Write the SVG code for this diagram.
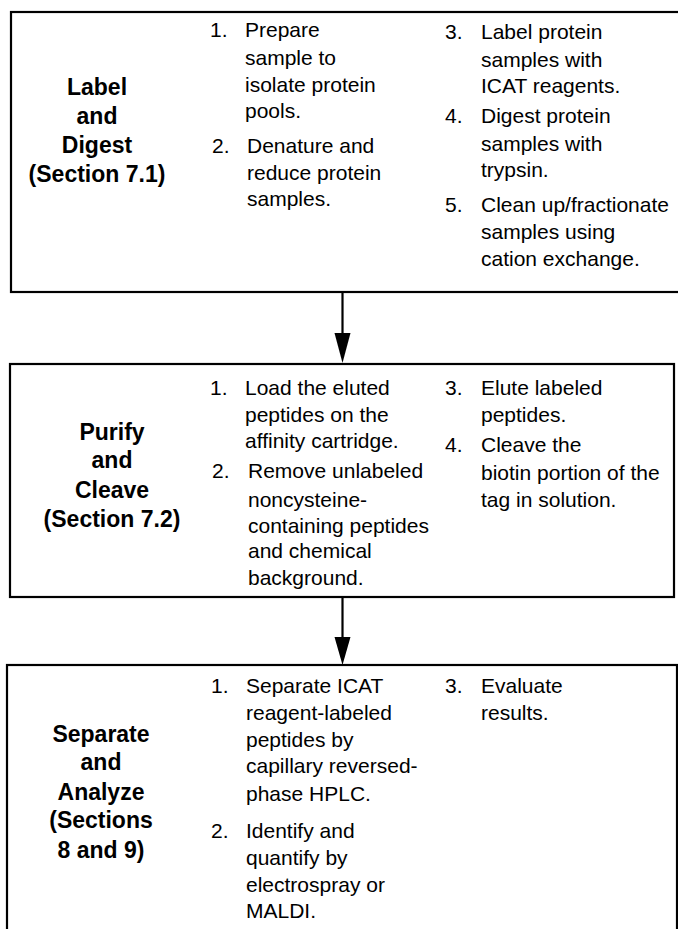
<svg xmlns="http://www.w3.org/2000/svg" width="678" height="929" viewBox="0 0 678 929">
<style>
.box{fill:#fff;stroke:#000;stroke-width:2.2}
.t{font-family:"Liberation Sans",Arial,sans-serif;font-size:21px;fill:#000}
.b{font-family:"Liberation Sans",Arial,sans-serif;font-size:23px;font-weight:bold;fill:#000;text-anchor:middle}
.c{stroke:#000;stroke-width:2.2;fill:none}
.h{fill:#000;stroke:none}
</style>
<rect width="678" height="929" fill="#fff"/>
<g id="node-label-digest">
<rect class="box" x="11" y="12" width="690" height="280"/>
<text class="b" x="97" y="95">Label</text>
<text class="b" x="97" y="124">and</text>
<text class="b" x="97" y="153">Digest</text>
<text class="b" x="97" y="182">(Section 7.1)</text>
<text class="t" x="210" y="37">1.</text>
<text class="t" x="245" y="37">Prepare</text>
<text class="t" x="245" y="65">sample to</text>
<text class="t" x="245" y="92">isolate protein</text>
<text class="t" x="245" y="118">pools.</text>
<text class="t" x="212" y="153">2.</text>
<text class="t" x="247" y="153">Denature and</text>
<text class="t" x="247" y="180">reduce protein</text>
<text class="t" x="247" y="206">samples.</text>
<text class="t" x="445" y="39">3.</text>
<text class="t" x="481" y="39">Label protein</text>
<text class="t" x="481" y="67">samples with</text>
<text class="t" x="481" y="93">ICAT reagents.</text>
<text class="t" x="445" y="123">4.</text>
<text class="t" x="481" y="123">Digest protein</text>
<text class="t" x="481" y="151">samples with</text>
<text class="t" x="481" y="177">trypsin.</text>
<text class="t" x="445" y="212">5.</text>
<text class="t" x="481" y="212">Clean up/fractionate</text>
<text class="t" x="481" y="239">samples using</text>
<text class="t" x="481" y="266">cation exchange.</text>
</g>
<g id="node-purify-cleave">
<rect class="box" x="10" y="364" width="664" height="233"/>
<text class="b" x="112" y="440">Purify</text>
<text class="b" x="112" y="468">and</text>
<text class="b" x="112" y="498">Cleave</text>
<text class="b" x="112" y="527">(Section 7.2)</text>
<text class="t" x="210" y="395">1.</text>
<text class="t" x="245" y="395">Load the eluted</text>
<text class="t" x="245" y="422">peptides on the</text>
<text class="t" x="245" y="448">affinity cartridge.</text>
<text class="t" x="212" y="478">2.</text>
<text class="t" x="248" y="478">Remove unlabeled</text>
<text class="t" x="248" y="507">noncysteine-</text>
<text class="t" x="248" y="533">containing peptides</text>
<text class="t" x="248" y="558">and chemical</text>
<text class="t" x="248" y="585">background.</text>
<text class="t" x="445" y="395">3.</text>
<text class="t" x="481" y="395">Elute labeled</text>
<text class="t" x="481" y="422">peptides.</text>
<text class="t" x="445" y="452">4.</text>
<text class="t" x="481" y="452">Cleave the</text>
<text class="t" x="481" y="480">biotin portion of the</text>
<text class="t" x="481" y="507">tag in solution.</text>
</g>
<g id="node-separate-analyze">
<rect class="box" x="7" y="665" width="670" height="300"/>
<text class="b" x="101" y="742">Separate</text>
<text class="b" x="101" y="770">and</text>
<text class="b" x="101" y="800">Analyze</text>
<text class="b" x="101" y="828">(Sections</text>
<text class="b" x="101" y="858">8 and 9)</text>
<text class="t" x="211" y="693">1.</text>
<text class="t" x="246" y="693">Separate ICAT</text>
<text class="t" x="246" y="720">reagent-labeled</text>
<text class="t" x="246" y="747">peptides by</text>
<text class="t" x="246" y="773">capillary reversed-</text>
<text class="t" x="246" y="801">phase HPLC.</text>
<text class="t" x="211" y="838">2.</text>
<text class="t" x="246" y="838">Identify and</text>
<text class="t" x="246" y="865">quantify by</text>
<text class="t" x="246" y="892">electrospray or</text>
<text class="t" x="246" y="918">MALDI.</text>
<text class="t" x="445" y="693">3.</text>
<text class="t" x="481" y="693">Evaluate</text>
<text class="t" x="481" y="720">results.</text>
</g>
<g id="connectors">
<line class="c" x1="342.5" y1="292" x2="342.5" y2="336"/>
<polygon class="h" points="334.5,333 350.5,333 342.5,363"/>
<line class="c" x1="342.5" y1="597" x2="342.5" y2="640"/>
<polygon class="h" points="334.5,637 350.5,637 342.5,665"/>
</g>
</svg>
